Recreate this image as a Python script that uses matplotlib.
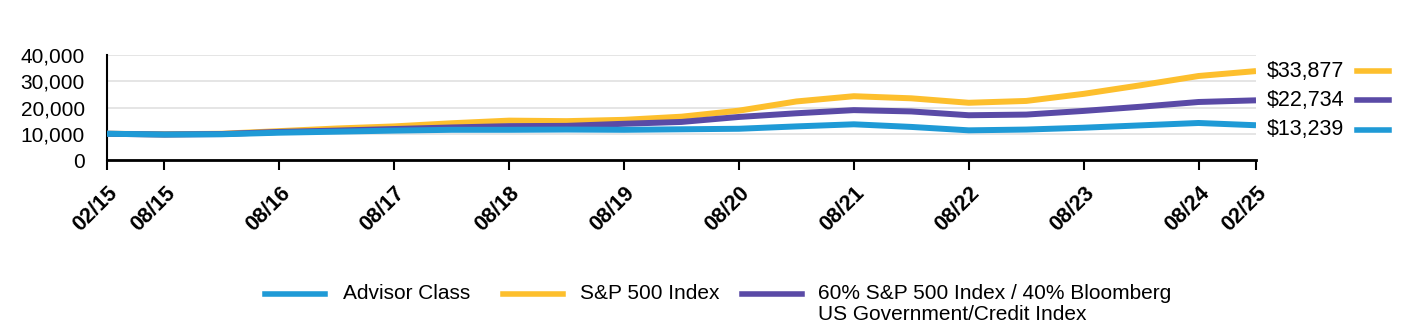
import matplotlib
matplotlib.use("Agg")
import matplotlib.pyplot as plt
from matplotlib.lines import Line2D

plt.rcParams['font.family'] = ['Liberation Sans', 'DejaVu Sans']

dates = ["02/15", "08/15", "02/16", "08/16", "02/17", "08/17", "02/18", "08/18", "02/19", "08/19",
         "02/20", "08/20", "02/21", "08/21", "02/22", "08/22", "02/23", "08/23", "02/24", "08/24", "02/25"]
advisor = [10000, 9700, 9800, 10400, 10800, 11200, 11500, 11500, 11600, 11500,
           11700, 11900, 12800, 13600, 12600, 11300, 11600, 12300, 13200, 14100, 13239]
sp500 = [10000, 9800, 10000, 11000, 12000, 12800, 14000, 15000, 14800, 15300,
         16500, 18800, 22300, 24300, 23500, 21800, 22500, 25200, 28500, 32000, 33877]
blend = [10000, 9700, 9900, 10700, 11200, 11800, 12400, 12900, 13000, 13800,
         14500, 16400, 17800, 19000, 18500, 17050, 17300, 18700, 20300, 22100, 22734]
end_labels = ["$13,239", "$33,877", "$22,734"]
series_names = ["Advisor Class", "S&P 500 Index", "60% S&P 500 Index / 40% Bloomberg\nUS Government/Credit Index"]
tick_labels = ["02/15", "08/15", "08/16", "08/17", "08/18", "08/19", "08/20", "08/21", "08/22", "08/23", "08/24", "02/25"]
yticks = [0, 10000, 20000, 30000, 40000]

colors = ["#1f9ad6", "#fdbf2d", "#5a4aa6"]
series = [advisor, sp500, blend]

W, H = 1428, 336
fig = plt.figure(figsize=(W / 100, H / 100), dpi=100)
ax = fig.add_axes([107/W, 1-160/H, (1256-107)/W, (160-55)/H])

x = list(range(len(dates)))
for idx in [1, 2, 0]:
    ax.plot(x, series[idx], color=colors[idx], lw=4.3, solid_capstyle='butt',
            solid_joinstyle='round', zorder=3 + (idx == 0))

ax.set_xlim(0, len(dates) - 1)
ax.set_ylim(0, 40000)
ax.set_yticks(yticks)
ax.set_yticklabels([f"{v:,}" for v in yticks], fontsize=15)
ax.tick_params(axis='y', length=0, pad=16)
ax.grid(axis='y', color='#e0e0e0', lw=1.2, zorder=0)
ax.set_axisbelow(True)

tick_pos = [dates.index(t) for t in tick_labels]
ax.set_xticks(tick_pos)
ax.set_xticklabels(tick_labels, rotation=45, ha='right', rotation_mode='anchor',
                   fontsize=15.5, fontweight='bold')
ax.tick_params(axis='x', length=7, width=1.5, pad=9, direction='out')

for s in ['top', 'right']:
    ax.spines[s].set_visible(False)
ax.spines['left'].set_linewidth(1.5)
ax.spines['bottom'].set_linewidth(2)

# End labels
label_y = [11600, 33877, 22734]
for idx in range(3):
    ax.text(1.009, label_y[idx], end_labels[idx], transform=ax.get_yaxis_transform(),
            fontsize=15.5, va='center', ha='left', clip_on=False)
    ax.add_line(Line2D([1.0875, 1.1155], [label_y[idx]] * 2, transform=ax.get_yaxis_transform(),
                       color=colors[idx], lw=4, clip_on=False))

# Legend, drawn manually (aligned to first text line)
handle_x = [265, 503, 742]
text_x = [343, 580, 818]
leg_y = 1 - 294/H
for idx in range(3):
    fig.add_artist(Line2D([handle_x[idx]/W, (handle_x[idx] + 60)/W], [leg_y, leg_y],
                          transform=fig.transFigure, color=colors[idx], lw=4))
    fig.text(text_x[idx]/W, 1 - 284/H, series_names[idx], fontsize=15, ha='left', va='top',
             linespacing=1.15)

fig.savefig("out.png", dpi=100)
